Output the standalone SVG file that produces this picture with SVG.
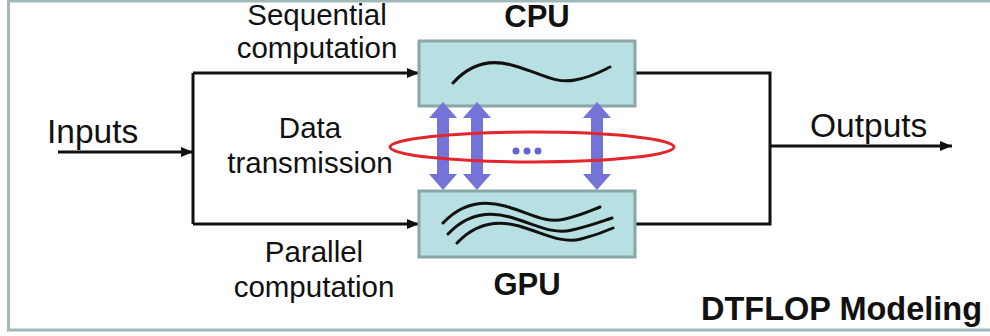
<svg xmlns="http://www.w3.org/2000/svg" width="990" height="336" viewBox="0 0 990 336">
<defs>
<style>
.lbl{font-family:"Liberation Sans",Arial,sans-serif;font-size:29.5px;fill:#111;text-anchor:middle}
.big{font-family:"Liberation Sans",Arial,sans-serif;font-size:33.5px;fill:#111}
.bold{font-family:"Liberation Sans",Arial,sans-serif;font-size:31px;font-weight:bold;fill:#111;text-anchor:middle}
.box{fill:#b8dfe1;stroke:#8aa6a6;stroke-width:3}
.wire{fill:none;stroke:#111;stroke-width:3}
.wave{fill:none;stroke:#111;stroke-width:3;stroke-linecap:round}
.dbl{fill:#7373d8}
</style>
<marker id="ah" viewBox="0 0 12 10" refX="12" refY="5" markerWidth="12" markerHeight="10" markerUnits="userSpaceOnUse" orient="auto">
<path d="M0,0 L12,5 L0,10 Z" fill="#111"/>
</marker>
</defs>
<rect x="0" y="0" width="990" height="336" fill="#fff"/>
<rect x="8.5" y="1" width="990" height="329" fill="none" stroke="#a3b8ba" stroke-width="3"/>

<g id="connectors">
<line class="wire" x1="58" y1="152" x2="193" y2="152" marker-end="url(#ah)"/>
<polyline class="wire" points="193,73 193,224"/>
<line class="wire" x1="193" y1="73" x2="419" y2="73" marker-end="url(#ah)"/>
<line class="wire" x1="193" y1="224" x2="419" y2="224" marker-end="url(#ah)"/>
<polyline class="wire" points="635,73 770,73 770,224 635,224"/>
<line class="wire" x1="770" y1="146" x2="952" y2="146" marker-end="url(#ah)"/>
</g>

<g id="cpu">
<rect class="box" x="419" y="41" width="216" height="65"/>
<path class="wave" d="M453,83 C470,64 490,58 515,66 C540,73 555,84 575,80 C592,77 600,72 610,67"/>
<text class="bold" x="537" y="27">CPU</text>
</g>

<g id="gpu">
<rect class="box" x="419" y="191" width="216" height="66"/>
<path class="wave" d="M443,223 C460,205 480,199 505,206 C530,213 545,224 565,219 C582,215 590,211 600,207"/>
<path class="wave" d="M448,234 C465,216 485,210 510,217 C535,224 552,235 572,230 C590,226 600,222 612,218"/>
<path class="wave" d="M457,243 C474,225 494,219 519,226 C544,233 561,244 581,239 C597,235 604,232 613,228"/>
<text class="bold" x="527" y="295">GPU</text>
</g>

<g id="data-transmission">
<path class="dbl" d="M443,102 L457,118 L449,118 L449,174 L457,174 L443,190 L429,174 L437,174 L437,118 L429,118 Z"/>
<path class="dbl" d="M477,102 L491,118 L483,118 L483,174 L491,174 L477,190 L463,174 L471,174 L471,118 L463,118 Z"/>
<path class="dbl" d="M597,102 L611,118 L603,118 L603,174 L611,174 L597,190 L583,174 L591,174 L591,118 L583,118 Z"/>
<ellipse cx="532" cy="147" rx="142" ry="15" fill="none" stroke="#e3262b" stroke-width="3"/>
<circle cx="516" cy="151" r="3.5" fill="#6565d0"/>
<circle cx="527" cy="151" r="3.5" fill="#6565d0"/>
<circle cx="538" cy="151" r="3.5" fill="#6565d0"/>
</g>

<g id="labels">
<text class="lbl" x="317" y="25">Sequential</text>
<text class="lbl" x="317" y="58">computation</text>
<text class="lbl" x="310" y="138">Data</text>
<text class="lbl" x="310" y="173">transmission</text>
<text class="lbl" x="314" y="262">Parallel</text>
<text class="lbl" x="314" y="297">computation</text>
<text class="big" x="47" y="143">Inputs</text>
<text class="big" x="810" y="137">Outputs</text>
<text class="bold" x="982" y="320" style="text-anchor:end;font-size:32.5px">DTFLOP Modeling</text>
</g>
</svg>
